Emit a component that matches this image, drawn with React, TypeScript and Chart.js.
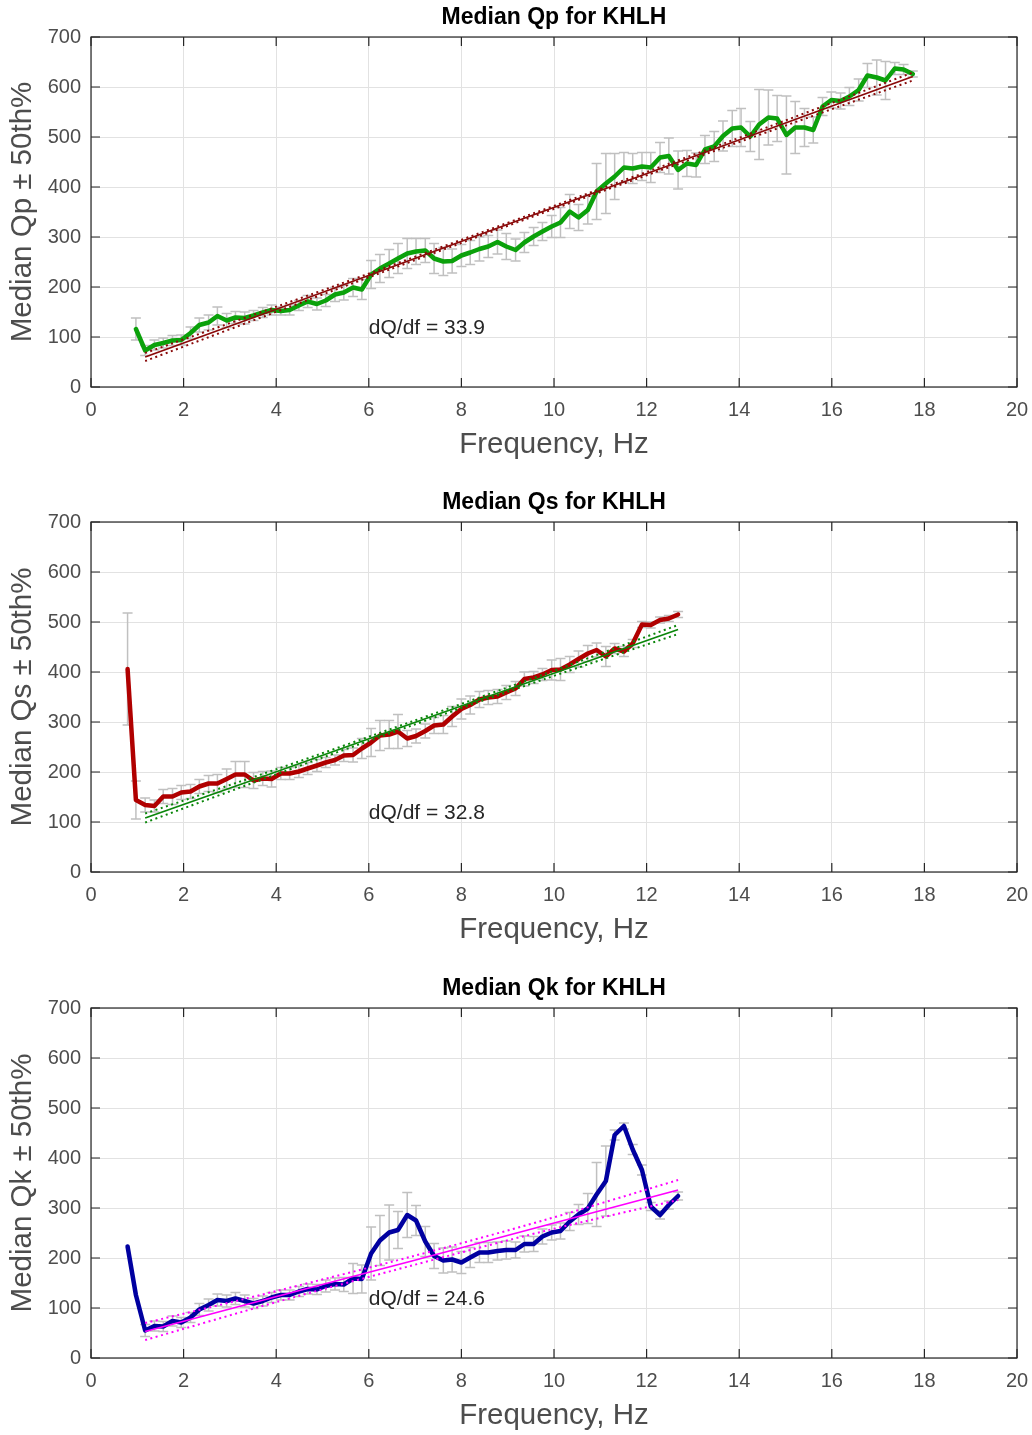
import React, { useEffect, useRef } from "react";
import { Chart, registerables } from "chart.js";

Chart.register(...registerables);

const FONT = "'Liberation Sans', Arial, Helvetica, sans-serif";

// Frequencies (Hz) at which the medians are given
const FREQ = [0.79, 0.97, 1.17, 1.37, 1.56, 1.76, 1.95, 2.15, 2.34, 2.54, 2.73, 2.93, 3.12, 3.32, 3.51, 3.71, 3.90, 4.10, 4.29, 4.49, 4.68, 4.88, 5.07, 5.27, 5.46, 5.66, 5.85, 6.05, 6.24, 6.44, 6.63, 6.83, 7.02, 7.22, 7.41, 7.61, 7.80, 8.00, 8.19, 8.39, 8.58, 8.78, 8.97, 9.17, 9.36, 9.56, 9.75, 9.95, 10.14, 10.34, 10.53, 10.73, 10.92, 11.12, 11.31, 11.51, 11.70, 11.90, 12.09, 12.29, 12.48, 12.68, 12.87, 13.07, 13.26, 13.46, 13.65, 13.85, 14.04, 14.24, 14.43, 14.63, 14.82, 15.02, 15.21, 15.41, 15.60, 15.80, 15.99, 16.19, 16.38, 16.58, 16.77, 16.97, 17.16, 17.36, 17.55, 17.75];

// Qp: starts at FREQ[1]
const QP = [116, 73, 84, 88, 93, 94, 108, 124, 129, 142, 133, 139, 138, 143, 149, 154, 152, 154, 163, 171, 166, 173, 185, 189, 199, 195, 225, 237, 247, 257, 267, 271, 273, 257, 251, 252, 263, 269, 276, 281, 290, 281, 274, 289, 301, 311, 321, 329, 351, 339, 354, 391, 407, 421, 439, 437, 441, 439, 459, 462, 434, 447, 444, 475, 481, 502, 517, 519, 501, 525, 539, 537, 504, 519, 519, 514, 561, 574, 572, 581, 594, 623, 619, 613, 637, 635, 626];
const QP_ERR = [22, 10, 10, 10, 10, 10, 12, 14, 15, 18, 14, 12, 12, 10, 10, 10, 8, 10, 10, 12, 12, 12, 14, 15, 18, 20, 28, 28, 28, 30, 30, 26, 24, 30, 28, 24, 22, 24, 24, 22, 24, 26, 22, 20, 18, 18, 22, 30, 34, 26, 28, 56, 60, 46, 30, 30, 28, 30, 30, 36, 38, 26, 24, 28, 30, 30, 36, 38, 30, 70, 55, 46, 78, 52, 38, 26, 18, 16, 16, 18, 22, 24, 35, 38, 12, 10, 6];

// Qs and Qk: FREQ[0] .. FREQ[61]
const QS = [406, 144, 134, 132, 151, 151, 159, 161, 171, 177, 177, 186, 195, 195, 183, 187, 186, 197, 197, 201, 207, 213, 219, 224, 233, 234, 247, 259, 273, 275, 281, 267, 272, 282, 293, 295, 311, 326, 334, 345, 349, 351, 359, 367, 386, 389, 395, 404, 405, 415, 426, 437, 444, 431, 447, 441, 457, 495, 494, 504, 507, 515];
const QS_ERR = [112, 38, 14, 12, 14, 16, 14, 14, 14, 16, 18, 20, 26, 26, 16, 14, 16, 12, 12, 12, 12, 12, 10, 10, 12, 14, 20, 28, 30, 28, 34, 16, 14, 14, 16, 18, 20, 20, 18, 16, 14, 14, 14, 14, 14, 12, 12, 20, 22, 16, 16, 16, 14, 20, 10, 10, 8, 6, 6, 6, 6, 6];

const QK = [223, 126, 55, 64, 63, 74, 71, 81, 97, 106, 116, 114, 119, 114, 109, 114, 121, 126, 126, 133, 138, 137, 144, 148, 147, 159, 158, 209, 235, 251, 256, 286, 275, 233, 204, 195, 197, 191, 201, 211, 211, 214, 216, 216, 228, 228, 243, 251, 254, 273, 287, 299, 327, 354, 446, 464, 417, 376, 303, 286, 306, 324];
const QK_ERR = [0, 0, 12, 10, 10, 10, 10, 10, 12, 12, 12, 12, 12, 12, 10, 10, 10, 10, 10, 10, 10, 10, 12, 12, 14, 30, 28, 53, 50, 55, 37, 45, 30, 30, 25, 25, 25, 22, 20, 20, 20, 18, 18, 16, 16, 15, 15, 15, 16, 18, 20, 30, 64, 70, 10, 6, 10, 10, 8, 8, 8, 8];

// Linear fits with confidence half-widths
const FIT_X_P = [1.17, 5.32, 9.46, 13.61, 17.75];
const FIT_P = [60, 200, 341, 481, 621];
const CI_P = [8, 4, 3, 4, 8];

const FIT_X_SK = [1.17, 4.05, 6.93, 9.80, 12.68];
const FIT_S = [108, 202, 297, 391, 485];
const CI_S = [9, 5, 4, 5, 9];
const FIT_K = [53, 124, 194, 265, 336];
const CI_K = [17, 11, 9, 11, 20];

const SLOPES = ["33.9", "32.8", "24.6"];

const X_MIN = 0, X_MAX = 20, X_STEP = 2;
const Y_MIN = 0, Y_MAX = 700, Y_STEP = 100;

const CANVAS_W = 1032;
const CANVAS_H = 464;
const PANEL_TOPS = [0, 485, 971];

type Panel = {
  title: string;
  ylabel: string;
  fx: number[];
  y: number[];
  err: number[];
  color: string;
  fitX: number[];
  fit: number[];
  ci: number[];
  fitColor: string;
  slope: string;
};

const panels: Panel[] = [
  { title: "Median Qp for KHLH", ylabel: "Median Qp \u00b1 50th%", fx: FREQ.slice(1, 1 + QP.length), y: QP, err: QP_ERR, color: "#0ba10b", fitX: FIT_X_P, fit: FIT_P, ci: CI_P, fitColor: "#8a0a0a", slope: SLOPES[0] },
  { title: "Median Qs for KHLH", ylabel: "Median Qs \u00b1 50th%", fx: FREQ.slice(0, QS.length), y: QS, err: QS_ERR, color: "#b00000", fitX: FIT_X_SK, fit: FIT_S, ci: CI_S, fitColor: "#0a860a", slope: SLOPES[1] },
  { title: "Median Qk for KHLH", ylabel: "Median Qk \u00b1 50th%", fx: FREQ.slice(0, QK.length), y: QK, err: QK_ERR, color: "#0000a0", fitX: FIT_X_SK, fit: FIT_K, ci: CI_K, fitColor: "#ff00ff", slope: SLOPES[2] },
];

const errorBarPlugin = {
  id: "errorBars",
  beforeDatasetsDraw(chart: any) {
    const ctx = chart.ctx;
    const xs = chart.scales.x;
    const ys = chart.scales.y;
    ctx.save();
    ctx.beginPath();
    ctx.rect(chart.chartArea.left, chart.chartArea.top, chart.chartArea.right - chart.chartArea.left, chart.chartArea.bottom - chart.chartArea.top);
    ctx.clip();
    ctx.strokeStyle = "#c0c0c0";
    ctx.lineWidth = 1.5;
    chart.data.datasets.forEach((ds: any) => {
      if (!ds.errors) return;
      ds.data.forEach((p: any, i: number) => {
        const e = ds.errors[i];
        if (!e) return;
        const px = xs.getPixelForValue(p.x);
        const top = ys.getPixelForValue(p.y + e);
        const bot = ys.getPixelForValue(p.y - e);
        const cw = 5;
        ctx.beginPath();
        ctx.moveTo(px, top);
        ctx.lineTo(px, bot);
        ctx.moveTo(px - cw, top);
        ctx.lineTo(px + cw, top);
        ctx.moveTo(px - cw, bot);
        ctx.lineTo(px + cw, bot);
        ctx.stroke();
      });
    });
    ctx.restore();
  },
};

const framePlugin = {
  id: "frame",
  afterDraw(chart: any) {
    const ctx = chart.ctx;
    const { left, right, top, bottom } = chart.chartArea;
    const xs = chart.scales.x;
    const ys = chart.scales.y;
    const tl = 9;
    ctx.save();
    ctx.strokeStyle = "#262626";
    ctx.lineWidth = 1.2;
    ctx.strokeRect(left, top, right - left, bottom - top);
    ctx.beginPath();
    for (let v = X_MIN; v <= X_MAX; v += X_STEP) {
      const px = xs.getPixelForValue(v);
      ctx.moveTo(px, bottom);
      ctx.lineTo(px, bottom - tl);
      ctx.moveTo(px, top);
      ctx.lineTo(px, top + tl);
    }
    for (let v = Y_MIN; v <= Y_MAX; v += Y_STEP) {
      const py = ys.getPixelForValue(v);
      ctx.moveTo(left, py);
      ctx.lineTo(left + tl, py);
      ctx.moveTo(right, py);
      ctx.lineTo(right - tl, py);
    }
    ctx.stroke();
    const opts = chart.options.plugins.frame || {};
    // axes title, centred over the axes box
    if (opts.title) {
      ctx.fillStyle = "#000000";
      ctx.font = `bold 23px ${FONT}`;
      ctx.textAlign = "center";
      ctx.textBaseline = "middle";
      ctx.fillText(opts.title, (left + right) / 2, top - 19);
    }
    // slope annotation
    if (opts.slopeText) {
      ctx.fillStyle = "#262626";
      ctx.font = `21px ${FONT}`;
      ctx.textAlign = "left";
      ctx.textBaseline = "middle";
      ctx.fillText(opts.slopeText, xs.getPixelForValue(6.0), ys.getPixelForValue(118));
    }
    ctx.restore();
  },
};

function makeConfig(p: Panel): any {
  const pts = (xs: number[], ys: number[]) => xs.map((x, i) => ({ x, y: ys[i] }));
  const ciHi = p.fit.map((v, i) => v + p.ci[i]);
  const ciLo = p.fit.map((v, i) => v - p.ci[i]);
  return {
    type: "line",
    data: {
      datasets: [
        { data: pts(p.fx, p.y), errors: p.err, borderColor: p.color, borderWidth: 4.5, pointRadius: 0, borderJoinStyle: "round", borderCapStyle: "round", order: 3 },
        { data: pts(p.fitX, p.fit), borderColor: p.fitColor, borderWidth: 1.8, pointRadius: 0, order: 1 },
        { data: pts(p.fitX, ciHi), borderColor: p.fitColor, borderWidth: 2, borderDash: [2, 3.5], pointRadius: 0, tension: 0.3, order: 2 },
        { data: pts(p.fitX, ciLo), borderColor: p.fitColor, borderWidth: 2, borderDash: [2, 3.5], pointRadius: 0, tension: 0.3, order: 2 },
      ],
    },
    options: {
      animation: false,
      responsive: false,
      maintainAspectRatio: false,
      layout: { padding: { left: 0, right: 15, top: 37, bottom: 0 } },
      plugins: {
        legend: { display: false },
        tooltip: { enabled: false },
        title: { display: false },
        frame: { title: p.title, slopeText: `dQ/df = ${p.slope}` },
      },
      scales: {
        x: {
          type: "linear",
          min: X_MIN,
          max: X_MAX,
          ticks: { stepSize: X_STEP, color: "#4d4d4d", font: { family: FONT, size: 20 }, padding: 11, maxRotation: 0, autoSkip: false },
          grid: { color: "#e2e2e2", drawTicks: false, lineWidth: 1 },
          border: { display: false },
          title: { display: true, text: "Frequency, Hz", color: "#4d4d4d", font: { family: FONT, size: 29.5 }, padding: { top: 0, bottom: 1.3 } },
          afterFit: (s: any) => { s.height = 77; s.paddingLeft = 0; s.paddingRight = 0; },
        },
        y: {
          type: "linear",
          min: Y_MIN,
          max: Y_MAX,
          ticks: { stepSize: Y_STEP, color: "#4d4d4d", font: { family: FONT, size: 20 }, padding: 10 },
          grid: { color: "#e2e2e2", drawTicks: false, lineWidth: 1 },
          border: { display: false },
          title: { display: true, text: p.ylabel, color: "#4d4d4d", font: { family: FONT, size: 29.5 }, padding: { top: 4.8, bottom: 0 } },
          afterFit: (s: any) => { s.width = 91; s.paddingTop = 0; s.paddingBottom = 0; },
        },
      },
    },
    plugins: [errorBarPlugin, framePlugin],
  };
}

function PanelChart({ panel, top }: { panel: Panel; top: number }) {
  const ref = useRef<HTMLCanvasElement | null>(null);
  useEffect(() => {
    if (!ref.current) return;
    const chart = new Chart(ref.current, makeConfig(panel));
    return () => chart.destroy();
  }, [panel]);
  return (
    <canvas
      ref={ref}
      width={CANVAS_W}
      height={CANVAS_H}
      style={{ position: "absolute", left: 0, top, width: CANVAS_W, height: CANVAS_H, display: "block" }}
    />
  );
}

export default function App() {
  return (
    <div style={{ position: "absolute", left: 0, top: 0, width: CANVAS_W, height: 1435, background: "#ffffff", overflow: "hidden" }}>
      {panels.map((p, i) => (
        <PanelChart key={i} panel={p} top={PANEL_TOPS[i]} />
      ))}
    </div>
  );
}
